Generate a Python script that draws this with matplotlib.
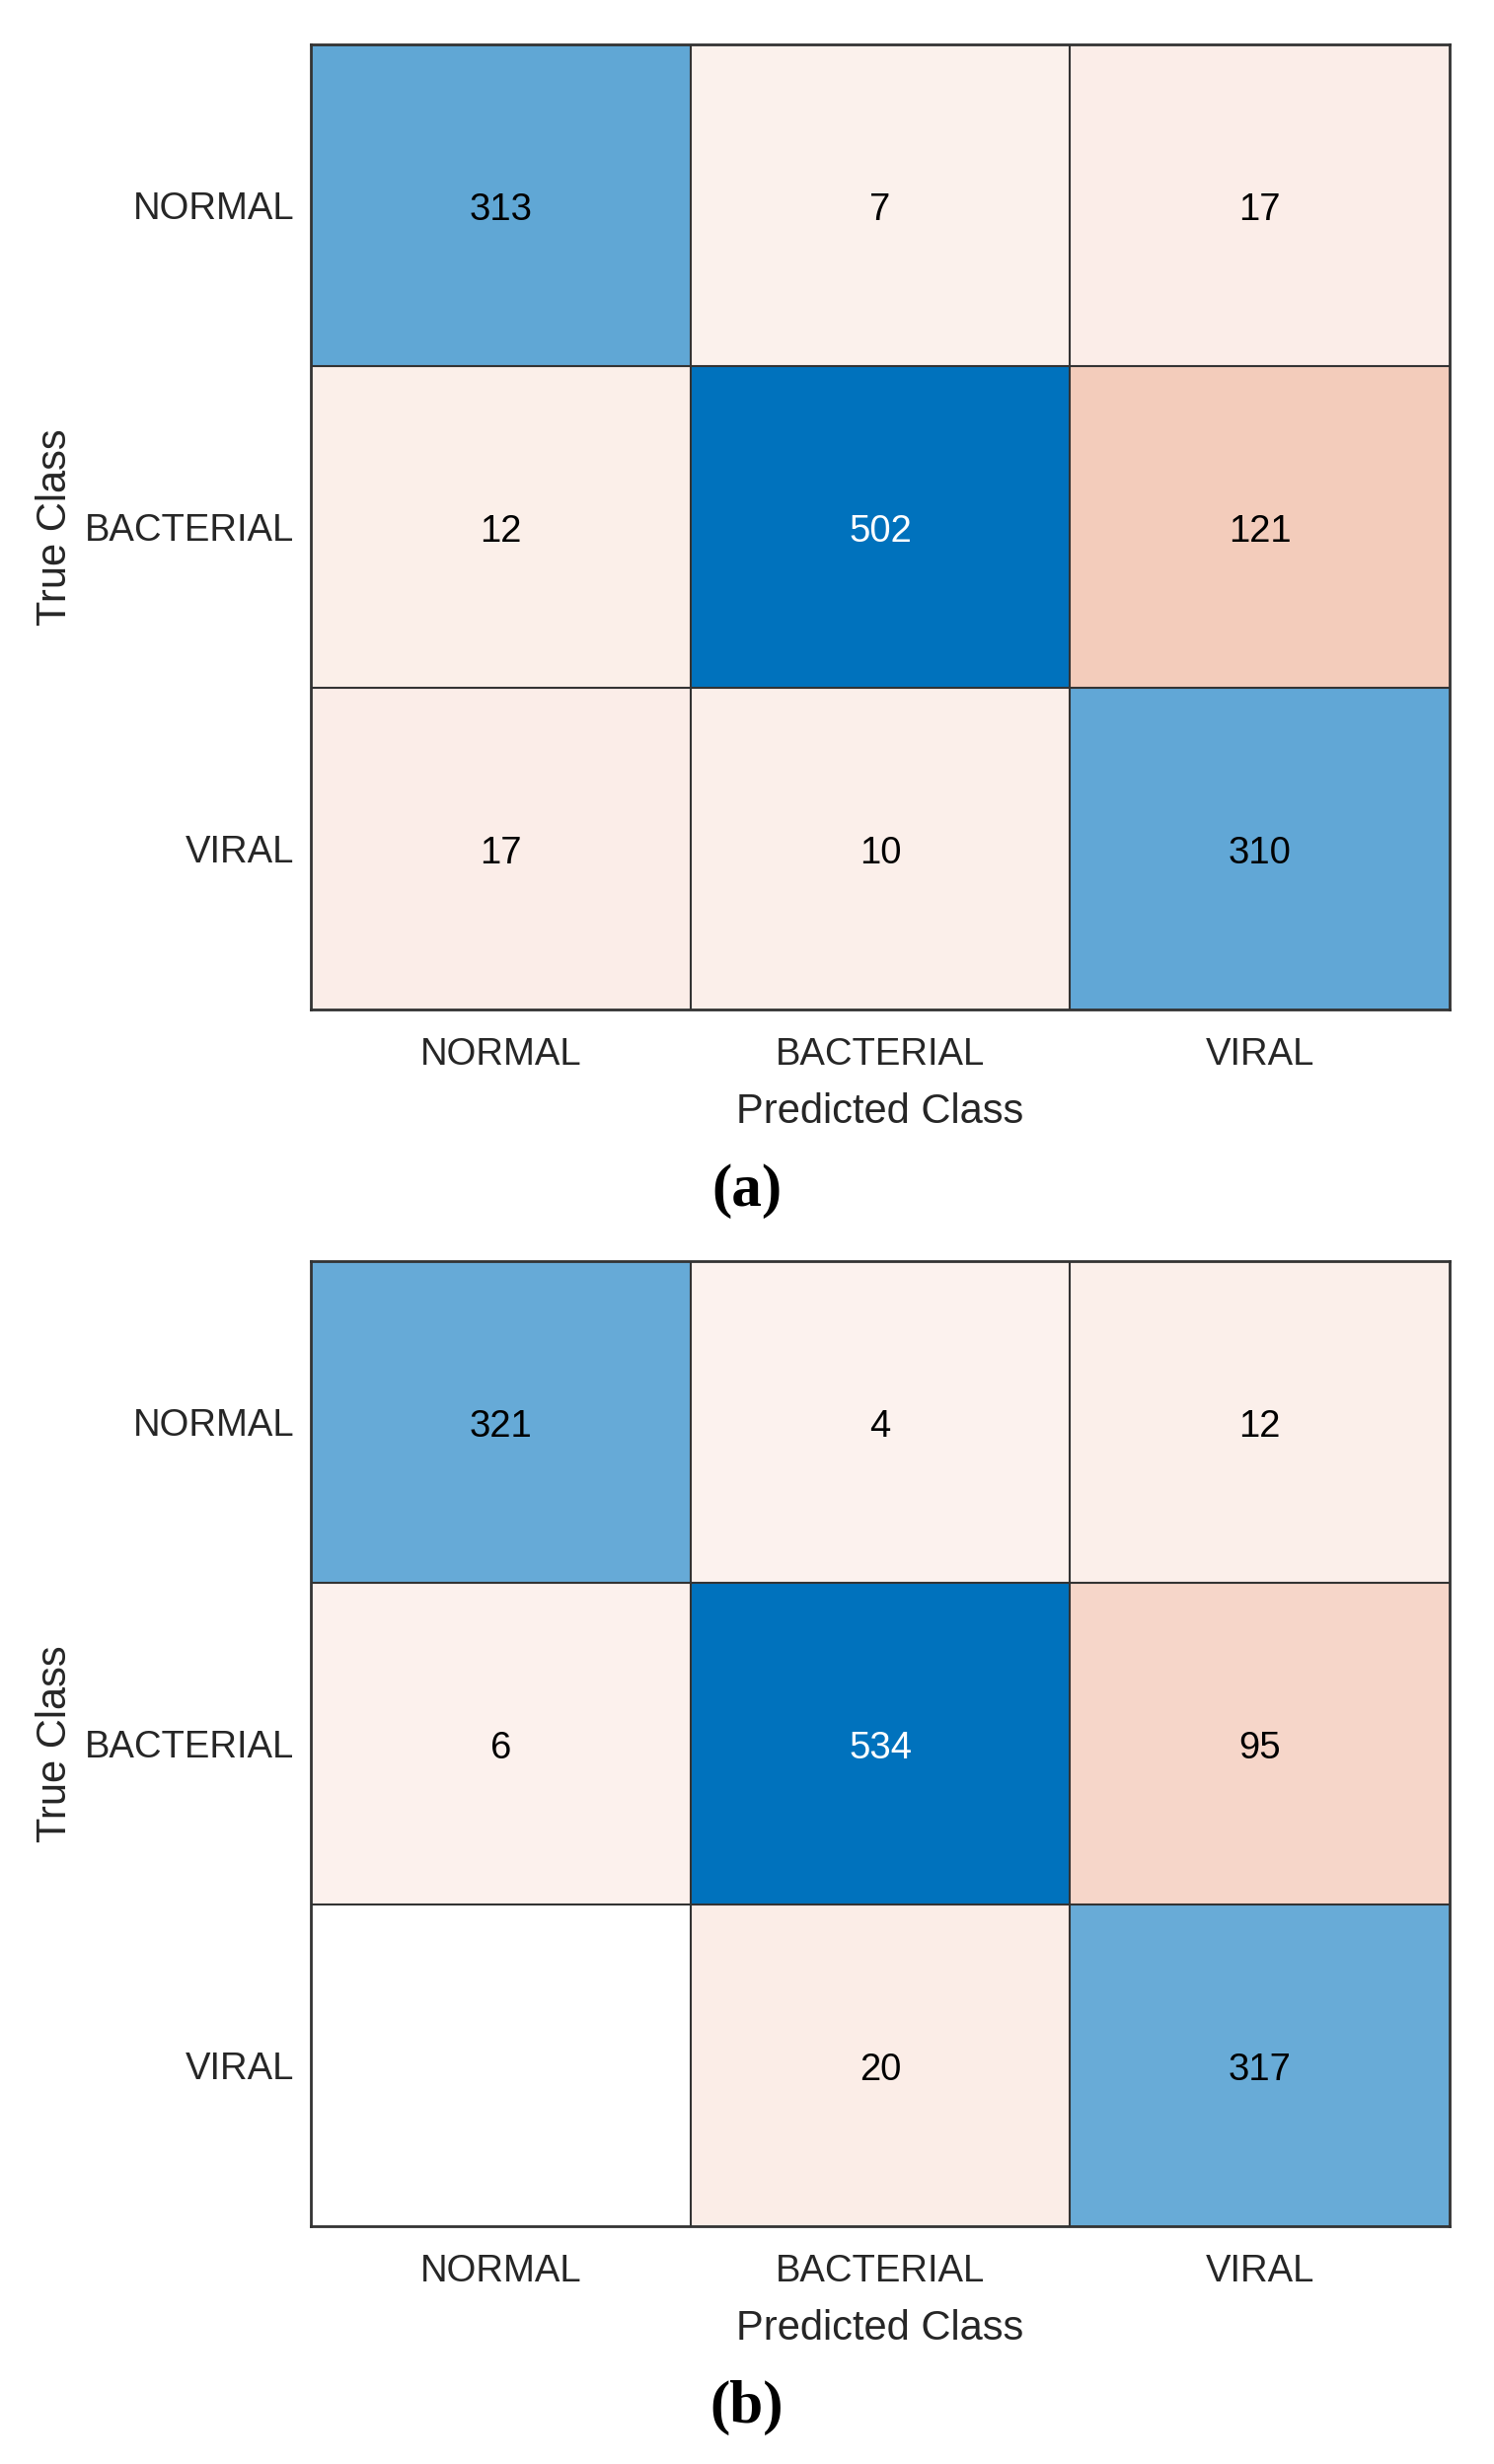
import numpy as np
import matplotlib
matplotlib.use("Agg")
import matplotlib.pyplot as plt
from matplotlib.colors import LinearSegmentedColormap, Normalize, to_rgb

# ==================== data ====================
class_names = ["NORMAL", "BACTERIAL", "VIRAL"]
panel_tags = ["(a)", "(b)"]

# rows = true class, cols = predicted class
cm_a = [[313, 7, 17],
        [12, 502, 121],
        [17, 10, 310]]
cm_b = [[321, 4, 12],
        [6, 534, 95],
        [0, 20, 317]]

# ==================== style ====================
plt.rcParams['font.family'] = ['Liberation Sans', 'DejaVu Sans']
blue = "#0072BD"
orange = "#D95319"
txt_gray = "#262626"
line_gray = "#333333"


def blend(c, t):
    c = np.array(to_rgb(c))
    return tuple(1 - t + t * c)


cmap_diag = LinearSegmentedColormap.from_list("diag", ["#FFFFFF", blue])
cmap_off = LinearSegmentedColormap.from_list("off", [blend(orange, 0.07), orange])

W, H = 1514, 2497
fig = plt.figure(figsize=(W / 100, H / 100), dpi=100)

# axes boxes in pixels: left, top, right, bottom
boxes = [(315, 45, 1469, 1023), (315, 1278, 1469, 2256)]


def draw_cm(ax, cm):
    cm = np.array(cm, dtype=float)
    n = cm.shape[0]
    norm = Normalize(0, cm.max())
    rgba = np.ones((n, n, 4))
    for i in range(n):
        for j in range(n):
            v = cm[i, j]
            if v == 0:
                continue
            cmap = cmap_diag if i == j else cmap_off
            rgba[i, j] = cmap(norm(v))
    ax.imshow(rgba, aspect="auto", extent=(-0.5, n - 0.5, n - 0.5, -0.5),
              interpolation="nearest")

    for i in range(n):
        for j in range(n):
            v = cm[i, j]
            if v == 0:
                continue
            r, g, b, _ = rgba[i, j]
            lum = 0.299 * r + 0.587 * g + 0.114 * b
            ax.text(j, i + 0.016, f"{int(v)}", ha="center", va="center",
                    fontsize=27.5, color="white" if lum < 0.5 else "black")

    # cell borders
    for k in np.arange(0.5, n - 0.5, 1):
        ax.axhline(k, color=line_gray, lw=1.5)
        ax.axvline(k, color=line_gray, lw=1.5)
    for s in ax.spines.values():
        s.set_color(line_gray)
        s.set_linewidth(2.0)

    ax.set_xlim(-0.5, n - 0.5)
    ax.set_ylim(n - 0.5, -0.5)
    ax.set_xticks(range(n))
    ax.set_yticks(range(n))
    ax.set_xticklabels(class_names, fontsize=27.5, color=txt_gray)
    ax.set_yticklabels(class_names, fontsize=27.5, color=txt_gray)
    ax.tick_params(axis="x", length=0, pad=20)
    ax.tick_params(axis="y", length=0, pad=12)

    ax.set_xlabel("Predicted Class", fontsize=30, color=txt_gray)
    ax.set_ylabel("True Class", fontsize=30, color=txt_gray)
    ax.xaxis.label.set_va("center")
    ax.yaxis.label.set_va("center")


for k, (cm, tag) in enumerate(zip([cm_a, cm_b], panel_tags)):
    l, t, r, b = boxes[k]
    ax = fig.add_axes([l / W, 1 - b / H, (r - l) / W, (b - t) / H])
    draw_cm(ax, cm)
    ax_h = b - t
    ax_w = r - l
    ax.xaxis.set_label_coords(0.5, -104 / ax_h)
    ax.yaxis.set_label_coords(-(l - 56) / ax_w, 0.5)
    fig.text(0.5, 1 - (b + 184) / H, tag, ha="center", va="center",
             fontsize=44, fontweight="bold", family="Liberation Serif")

fig.savefig("out.png", dpi=100, facecolor="white")
